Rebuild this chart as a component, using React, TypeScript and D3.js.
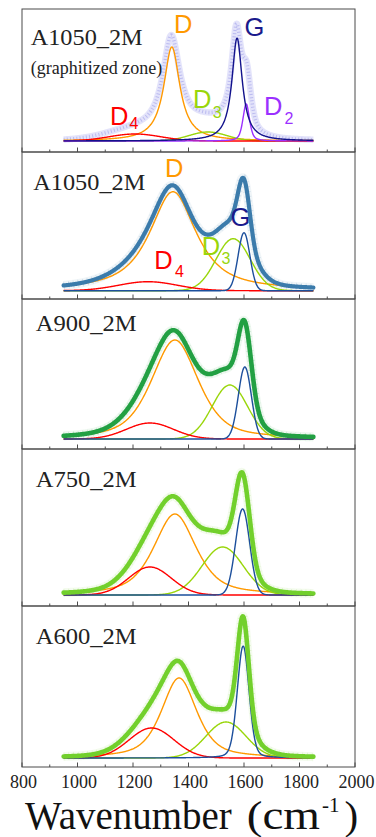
import React from "react";
import * as d3 from "d3";

// ---------- data ----------
const xTickValues = [800, 1000, 1200, 1400, 1600, 1800, 2000];
const xMinorTickValues = [900, 1100, 1300, 1500, 1700, 1900];
const sampleNames = ["A1050_2M", "A1050_2M", "A900_2M", "A750_2M", "A600_2M"];
const subtitle = "(graphitized zone)";
const axisTitleSup = "-1";

// fitted bands per panel (center cm-1, height a.u., FWHM cm-1, Lorentzian fraction)
const dCenter = [1340, 1344, 1351, 1351, 1366];
const dHeight = [94, 99, 99, 81, 80];
const dWidth = [70, 200, 200, 180, 150];
const dEta = [1, 0.85, 0.55, 0.6, 0.6];

const gCenter = [1575, 1600, 1603, 1595, 1597];
const gHeight = [103, 58, 72, 86, 112];
const gWidth = [45, 50, 55, 60, 50];
const gEta = [1, 0, 0, 0, 0.2];

const d3Center = [1470, 1561, 1549, 1523, 1535];
const d3Height = [9, 52, 54, 48, 36];
const d3Width = [160, 145, 150, 175, 170];

const d4Center = [1207, 1254, 1261, 1261, 1267];
const d4Height = [7, 9, 16, 28, 30];
const d4Width = [220, 250, 200, 180, 190];

const d2Center = [1608];
const d2Height = [37];
const d2Width = [28];

// raw spectrum of the graphitized zone (scatter), described by its own peaks
const rawCenter = [1338, 1573, 1610, 1470, 1215];
const rawHeight = [95, 102, 45, 16, 10];
const rawWidth = [75, 45, 35, 200, 250];
const rawEta = [1, 1, 0.5, 0, 0];

const xStart = 950;
const xEnd = 1850;

// ---------- layout ----------
const W = 376;
const H = 837;
const plotLeft = 22;
const plotRight = 355;
const panelEdges = [9, 152, 299, 449, 606, 767];
const baselineGap = [11, 8.3, 10, 11, 9];
const titleX = [30.7, 33.3, 35.7, 35.7, 35.7];
const titleY = [44.5, 190, 331, 487, 644];

const COL = {
  D: "#ff9900",
  D4: "#ff0000",
  D3: "#99d60a",
  D2: "#9b30ff",
  G1: "#12128c",
  G: "#1c4f9c",
  text: "#222222",
  frame: "#4a4a4a",
};
const envColors = ["#8e8ee8", "#3b7bab", "#22a043", "#72d02c", "#72d02c"];

const serif = "'Liberation Serif', 'Times New Roman', serif";
const sans = "'Liberation Sans', Arial, sans-serif";

function pv(x: number, c: number, h: number, w: number, eta: number) {
  const t = (x - c) / (w / 2);
  const L = 1 / (1 + t * t);
  const G = Math.exp(-Math.LN2 * t * t);
  return h * (eta * L + (1 - eta) * G);
}

const grid = d3.range(xStart, xEnd + 0.001, 2);

const x = d3.scaleLinear().domain([800, 2000]).range([plotLeft, plotRight]);

type Band = { c: number; h: number; w: number; eta: number; color: string };

function panelBands(i: number): Band[] {
  const bands: Band[] = [
    { c: dCenter[i], h: dHeight[i], w: dWidth[i], eta: dEta[i], color: COL.D },
    { c: d3Center[i], h: d3Height[i], w: d3Width[i], eta: 0, color: COL.D3 },
    { c: d4Center[i], h: d4Height[i], w: d4Width[i], eta: 0, color: COL.D4 },
  ];
  if (i === 0) {
    bands.push({ c: d2Center[0], h: d2Height[0], w: d2Width[0], eta: 0.5, color: COL.D2 });
  }
  bands.push({ c: gCenter[i], h: gHeight[i], w: gWidth[i], eta: gEta[i], color: i === 0 ? COL.G1 : COL.G });
  return bands;
}

function Panel({ i }: { i: number }) {
  const top = panelEdges[i];
  const bottom = panelEdges[i + 1];
  const base = bottom - baselineGap[i];
  const y = d3.scaleLinear().domain([0, 100]).range([base, base - 100]);
  const line = d3
    .line<[number, number]>()
    .x((d) => x(d[0]))
    .y((d) => y(d[1]))
    .curve(d3.curveMonotoneX);

  const bands = panelBands(i);
  const bandPaths = bands.map((b) => ({
    color: b.color,
    d: line(grid.map((v) => [v, pv(v, b.c, b.h, b.w, b.eta)] as [number, number])) || "",
  }));

  let envPts: [number, number][];
  if (i === 0) {
    envPts = grid.map((v) => [
      v,
      rawCenter.reduce((s, c, k) => s + pv(v, c, rawHeight[k], rawWidth[k], rawEta[k]), 0),
    ]);
  } else {
    envPts = grid.map((v) => [v, bands.reduce((s, b) => s + pv(v, b.c, b.h, b.w, b.eta), 0)]);
  }
  const envD = line(envPts) || "";

  return (
    <g>
      <rect
        x={plotLeft}
        y={top}
        width={plotRight - plotLeft}
        height={bottom - top}
        fill="none"
        stroke={COL.frame}
        strokeWidth={1}
      />
      {xTickValues.map((t) => (
        <line key={"M" + t} x1={x(t)} x2={x(t)} y1={bottom} y2={bottom - 4.5} stroke={COL.frame} strokeWidth={1} />
      ))}
      {xMinorTickValues.map((t) => (
        <line key={"m" + t} x1={x(t)} x2={x(t)} y1={bottom} y2={bottom - 2.5} stroke={COL.frame} strokeWidth={1} />
      ))}
      {i === 0 ? (
        <g>
          <path d={envD} fill="none" stroke="#b0b0f2" strokeOpacity={0.35} strokeWidth={6.5} strokeLinejoin="round" />
          <path d={envD} fill="none" stroke="#8080e0" strokeOpacity={0.4} strokeWidth={3.5} strokeDasharray="1 2.2" />
        </g>
      ) : (
        <g>
          <path d={envD} fill="none" stroke={envColors[i]} strokeOpacity={0.08} strokeWidth={9} strokeLinejoin="round" />
          <path d={envD} fill="none" stroke={envColors[i]} strokeOpacity={0.18} strokeWidth={7.5} strokeDasharray="0.8 4" />
        </g>
      )}
      {bandPaths.map((b, k) => (
        <path key={k} d={b.d} fill="none" stroke={b.color} strokeWidth={1.4} />
      ))}
      {i > 0 && (
        <path d={envD} fill="none" stroke={envColors[i]} strokeWidth={i === 1 ? 4.2 : 4.6} strokeLinejoin="round" strokeLinecap="round" />
      )}
      <text
        x={titleX[i]}
        y={titleY[i]}
        fontFamily={serif}
        fontSize={22.5}
        fill={COL.text}
        textLength={sampleNames[i].length === 8 ? 112 : 101}
        lengthAdjust="spacingAndGlyphs"
      >
        {sampleNames[i]}
      </text>
      {i === 0 && (
        <text x={30.7} y={74} fontFamily={serif} fontSize={18} fill={COL.text}>
          {subtitle}
        </text>
      )}
    </g>
  );
}

function BandLabel({
  t,
  sub,
  color,
  xPos,
  yPos,
  subX,
  subY,
}: {
  t: string;
  sub?: string;
  color: string;
  xPos: number;
  yPos: number;
  subX?: number;
  subY?: number;
}) {
  return (
    <g fill={color} fontFamily={sans}>
      <text x={xPos} y={yPos} fontSize={25.5}>
        {t}
      </text>
      {sub && (
        <text x={subX} y={subY} fontSize={16}>
          {sub}
        </text>
      )}
    </g>
  );
}

export default function App() {
  return (
    <svg
      width={W}
      height={H}
      viewBox={`0 0 ${W} ${H}`}
      style={{ position: "absolute", left: 0, top: 0, background: "#fff" }}
    >
      <rect x={0} y={0} width={W} height={H} fill="#fff" />
      {sampleNames.map((_, i) => (
        <Panel key={i} i={i} />
      ))}

      <BandLabel t="D" color={COL.D} xPos={174} yPos={33.3} />
      <BandLabel t="G" color="#1a1a8c" xPos={244.5} yPos={35.8} />
      <BandLabel t="D" sub="3" color="#99d60a" xPos={193} yPos={108.3} subX={212.7} subY={118.3} />
      <BandLabel t="D" sub="2" color={COL.D2} xPos={264} yPos={115} subX={284.5} subY={124} />
      <BandLabel t="D" sub="4" color={COL.D4} xPos={110} yPos={125} subX={129.5} subY={128.8} />

      <BandLabel t="D" color={COL.D} xPos={165} yPos={177.3} />
      <BandLabel t="G" color="#1a1a8c" xPos={230.5} yPos={225.5} />
      <BandLabel t="D" sub="3" color="#99d60a" xPos={201.7} yPos={255} subX={221.5} subY={264.3} />
      <BandLabel t="D" sub="4" color={COL.D4} xPos={154.3} yPos={269} subX={175} subY={277.3} />

      {xTickValues.map((t) => (
        <text
          key={t}
          x={x(t) + 1.5}
          y={788.3}
          textAnchor="middle"
          fontFamily={serif}
          fontSize={18}
          fill={COL.text}
        >
          {t}
        </text>
      ))}

      <text y={829.3} fontFamily={serif} fill="#111">
        <tspan x={25} fontSize={39} textLength={206.7} lengthAdjust="spacingAndGlyphs">
          Wavenumber
        </tspan>
        <tspan x={246.7} fontSize={41} textLength={73.3} lengthAdjust="spacingAndGlyphs">
          (cm
        </tspan>
        <tspan x={322} y={811.7} fontSize={21}>
          {axisTitleSup}
        </tspan>
        <tspan x={344.5} y={829.3} fontSize={41}>
          )
        </tspan>
      </text>
    </svg>
  );
}
